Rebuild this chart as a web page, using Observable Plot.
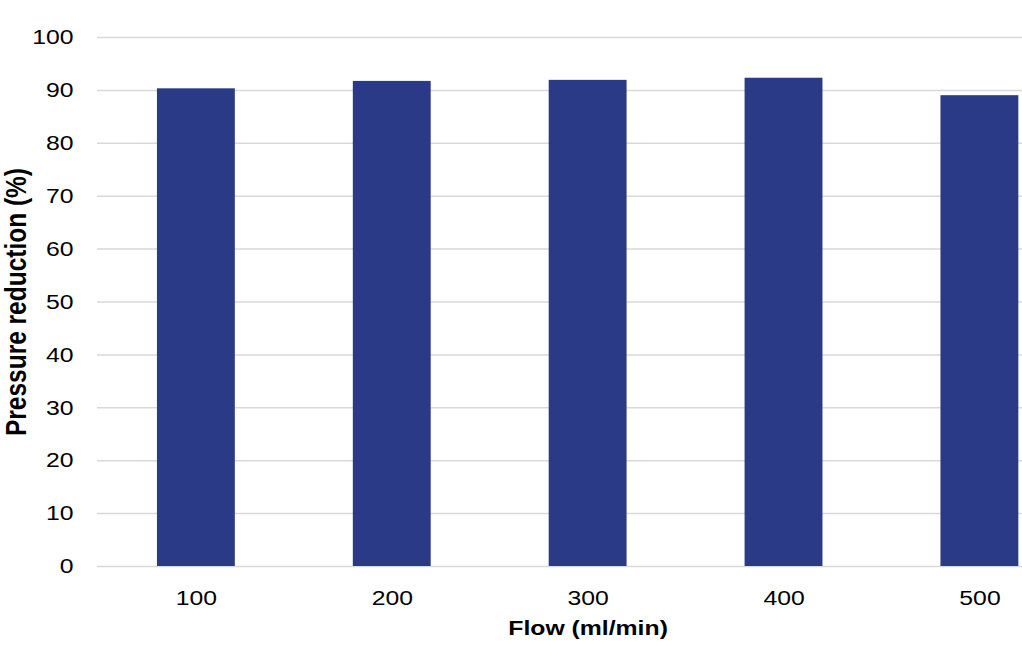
<!DOCTYPE html>
<html>
<head>
<meta charset="utf-8">
<script src="https://cdn.jsdelivr.net/npm/d3@7"></script>
<script src="https://cdn.jsdelivr.net/npm/@observablehq/plot@0.6"></script>
<style>
  html, body { margin: 0; padding: 0; background: #fff; overflow: hidden; }
  #chart svg { display: block; }
  #chart svg text { font-size: 21px; fill: #000; }
  #chart svg g[aria-label="x-axis label"] text { font-weight: bold; font-size: 21px; }
  #chart svg g[aria-label="y-axis label"] text { font-weight: bold; font-size: 24.5px; }
</style>
</head>
<body>
<div id="chart"></div>
<script>
const flows = ["100", "200", "300", "400", "500"];
const reductions = [90.3, 91.7, 91.9, 92.3, 89.0];
const yTicks = [0, 10, 20, 30, 40, 50, 60, 70, 80, 90, 100];

const data = flows.map((f, i) => ({flow: f, value: reductions[i]}));

// The reference is horizontally stretched; draw at a narrower internal width
// and stretch the SVG to 1022px wide.
const stretch = 1.18;
const W = 1022 / stretch;

const chart = Plot.plot({
  width: W,
  height: 652,
  marginLeft: 97 / stretch,
  marginRight: W - 1078 / stretch,
  marginTop: 37,
  marginBottom: 86,
  style: {fontFamily: "Liberation Sans, Arial, sans-serif", fontSize: "21px", color: "#000", background: "#fff"},
  x: {domain: flows, paddingInner: 0.6, paddingOuter: 0.3},
  y: {domain: [0, 100]},
  marks: [
    Plot.ruleY(yTicks, {stroke: "#d9d9d9", strokeWidth: 1.5}),
    Plot.barY(data, {x: "flow", y: "value", fill: "#2b3a86"}),
    Plot.axisX({tickSize: 0, tickPadding: 24, label: "Flow (ml/min)", labelAnchor: "center", labelOffset: 68}),
    Plot.axisY({ticks: yTicks, tickSize: 0, tickPadding: 24 / stretch, label: "Pressure reduction (%)", labelAnchor: "center", labelOffset: 97 / stretch - 4, labelArrow: "none"})
  ]
});
chart.setAttribute("viewBox", `0 0 ${W} 652`);
chart.setAttribute("width", 1022);
chart.setAttribute("height", 652);
chart.setAttribute("preserveAspectRatio", "none");
chart.style.maxWidth = "none";
document.getElementById("chart").appendChild(chart);
</script>
</body>
</html>
